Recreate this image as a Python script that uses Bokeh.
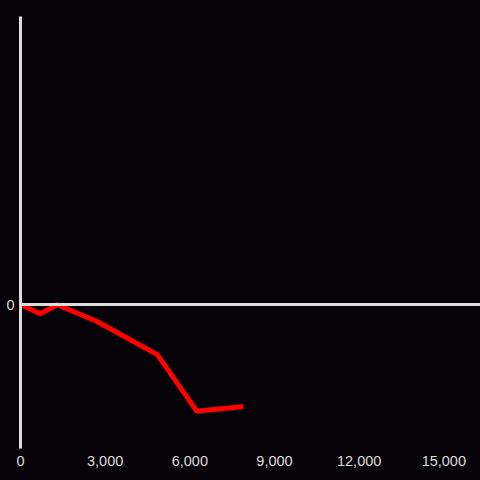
from bokeh.plotting import figure
from bokeh.models import FixedTicker, NumeralTickFormatter, Span, Range1d
from bokeh.embed import file_html
from bokeh.resources import INLINE

# data
x_values = [0, 700, 1300, 2700, 4850, 6250, 7900]
y_values = [0, -3.2, -0.1, -5.8, -17.4, -37.1, -35.4]
x_ticks = [0, 3000, 6000, 9000, 12000, 15000]
y_ticks = [0]

BG = "#050307"
AX = "#dcdcdc"

p = figure(width=480, height=480, output_backend="svg", toolbar_location=None,
           x_range=Range1d(0, 16300), y_range=Range1d(-50, 100),
           min_border_left=20, min_border_right=0, min_border_top=16, min_border_bottom=32)
p.background_fill_color = BG
p.border_fill_color = BG
p.outline_line_color = None
p.xgrid.visible = False
p.ygrid.visible = False

p.xaxis.ticker = FixedTicker(ticks=x_ticks)
p.xaxis.formatter = NumeralTickFormatter(format="0,0")
p.xaxis.axis_line_color = None
p.xaxis.major_tick_line_color = None
p.xaxis.minor_tick_line_color = None
p.xaxis.major_label_text_color = AX
p.xaxis.major_label_text_font = "Liberation Sans"
p.xaxis.major_label_text_font_size = "14.5px"
p.xaxis.major_label_standoff = 1

p.yaxis.ticker = FixedTicker(ticks=y_ticks)
p.yaxis.axis_line_color = AX
p.yaxis.axis_line_width = 3
p.yaxis.major_tick_line_color = None
p.yaxis.minor_tick_line_color = None
p.yaxis.major_label_text_color = AX
p.yaxis.major_label_text_font = "Liberation Sans"
p.yaxis.major_label_text_font_size = "14.5px"
p.yaxis.major_label_standoff = 0

p.add_layout(Span(location=0, dimension="width", line_color=AX, line_width=3))

p.line(x_values, y_values, line_color="#ff0000", line_width=5)

html = file_html(p, INLINE)
html = html.replace("<head>", "<head><style>html,body{background:%s;overflow:hidden;}</style>" % BG, 1)
open("out.html", "w").write(html)
